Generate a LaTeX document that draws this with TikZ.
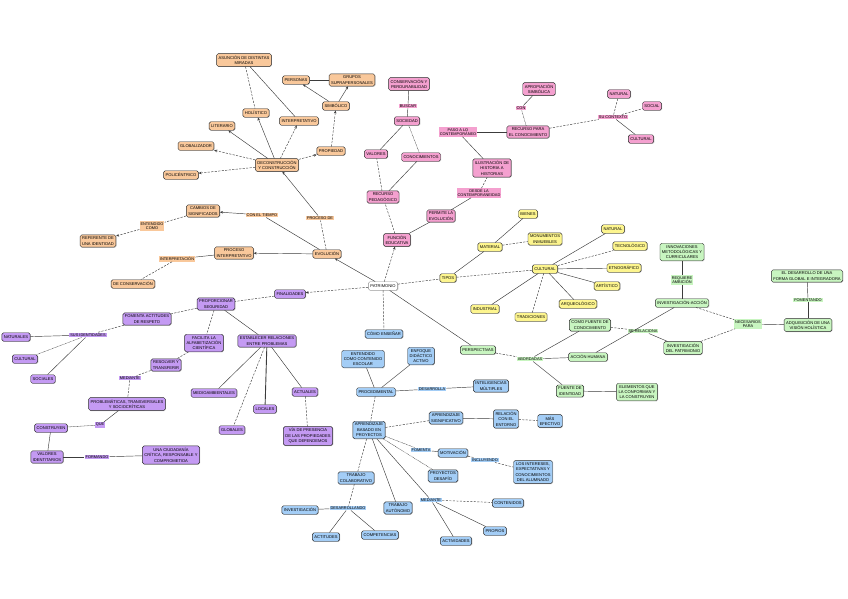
\documentclass[tikz,border=0pt]{standalone}
\usepackage{fontspec}
\setmainfont{Liberation Sans}
\usepackage{xcolor}
\usepackage{tikz}
\usetikzlibrary{arrows.meta,shadows}
\definecolor{evofill}{HTML}{F9C89B}
\definecolor{edufill}{HTML}{F4A0CF}
\definecolor{tipofill}{HTML}{FDF58E}
\definecolor{perspfill}{HTML}{C8F5C0}
\definecolor{finfill}{HTML}{C49AF3}
\definecolor{ensfill}{HTML}{A3CDF6}
\definecolor{mapink}{HTML}{2B2B2B}
\definecolor{lineink}{HTML}{3C3C3C}
\newcommand\mapfont{\fontsize{4.1}{5.4}\selectfont}
\newcommand\tagfont{\fontsize{3.9}{4.6}\selectfont}

\begin{document}
\begin{tikzpicture}[
  x=1pt,y=-1pt,
  box/.style={draw=mapink,rounded corners=1.6pt,line width=.45pt,align=center,
    font=\mapfont,inner xsep=2pt,inner ysep=1.9pt,minimum height=8.5pt,
    drop shadow={shadow xshift=.6pt,shadow yshift=-.6pt,fill=black!45}},
  evo/.style={box,fill=evofill},
  edu/.style={box,fill=edufill},
  tipo/.style={box,fill=tipofill},
  persp/.style={box,fill=perspfill},
  fin/.style={box,fill=finfill},
  ens/.style={box,fill=ensfill},
  lbl/.style={font=\tagfont,align=center,inner xsep=1pt,inner ysep=.9pt},
  con/.style={lineink,line width=.45pt},
  dsh/.style={con,dash pattern=on 2.2pt off 1.3pt},
  dot/.style={con,dash pattern=on .5pt off .9pt,line cap=round},
  heavy/.style={con,line width=.9pt},
  arr/.style={-{Stealth[length=3pt,width=2.6pt]}}
]
  \useasboundingbox (0,0) rectangle (848,599);

  \node[box,fill=white,draw=black!45] (pat) at (383,286) {PATRIMONIO};

  % evolucion
  \node[evo] (asun) at (244,60) {ASUNCIÓN DE DISTINTAS\\MIRADAS};
  \node[evo] (pers) at (296,80) {PERSONAS};
  \node[evo] (grup) at (352,80) {GRUPOS\\SUPRAPERSONALES};
  \node[evo] (simb) at (336,106) {SIMBÓLICO};
  \node[evo] (holi) at (256,113) {HOLÍSTICO};
  \node[evo] (lite) at (222,126) {LITERARIO};
  \node[evo] (inte) at (299,121) {INTERPRETATIVO};
  \node[evo] (glob) at (196,146) {GLOBALIZADOR};
  \node[evo] (prop) at (331,151) {PROPIEDAD};
  \node[evo] (deco) at (277,165) {DECONSTRUCCIÓN\\Y CONSTRUCCIÓN};
  \node[evo] (poli) at (181,175) {POLICÉNTRICO};
  \node[evo] (camb) at (203,211) {CAMBIOS DE\\SIGNIFICADOS};
  \node[evo] (refe) at (98,241) {REFERENTE DE\\UNA IDENTIDAD};
  \node[evo] (proi) at (234,253) {PROCESO\\INTERPRETATIVO};
  \node[evo] (evol) at (327,254) {EVOLUCIÓN};
  \node[evo] (cons) at (133,284) {DE CONSERVACIÓN};
  \node[lbl,fill=evofill] (ltiempo) at (262,215) {CON EL TIEMPO};
  \node[lbl,fill=evofill] (lcomo) at (152,226) {ENTENDIDO\\COMO};
  \node[lbl,fill=evofill] (lproc) at (320,218) {PROCESO DE};
  \node[lbl,fill=evofill] (linterp) at (177,259) {INTERPRETACIÓN};

  % funcion educativa
  \node[edu] (perd) at (409,84) {CONSERVACIÓN Y\\PERDURABILIDAD};
  \node[edu] (soci) at (407,121) {SOCIEDAD};
  \node[edu] (valo) at (376,154) {VALORES};
  \node[edu] (cono) at (421,157) {CONOCIMIENTOS};
  \node[edu] (rped) at (383,197) {RECURSO\\PEDAGÓGICO};
  \node[edu] (func) at (397,240) {FUNCIÓN\\EDUCATIVA};
  \node[edu] (perm) at (441,216) {PERMITE LA\\EVOLUCIÓN};
  \node[edu] (ilus) at (492,168) {ILUSTRACIÓN DE\\HISTORIA A\\HISTORIAS};
  \node[edu] (rcon) at (528,132) {RECURSO PARA\\EL CONOCIMIENTO};
  \node[edu] (elev) at (539,89) {APROPIACIÓN\\SIMBÓLICA};
  \node[edu] (enat) at (619,94) {NATURAL};
  \node[edu] (esoc) at (652,106) {SOCIAL};
  \node[edu] (ecul) at (641,139) {CULTURAL};
  \node[lbl,fill=edufill] (lbusc) at (408,106) {BUSCAR};
  \node[lbl,fill=edufill] (ldesde) at (479,193) {DESDE LA\\CONTEMPORANEIDAD};
  \node[lbl,fill=edufill] (lpaso) at (458,132) {PASO A LO\\CONTEMPORÁNEO};
  \node[lbl,fill=edufill] (lcon) at (521,108) {CON};
  \node[lbl,fill=edufill] (lcont) at (613,117) {SU CONTEXTO};

  % tipos
  \node[tipo] (tipo) at (448,278) {TIPOS};
  \node[tipo] (mate) at (490,247) {MATERIAL};
  \node[tipo] (bien) at (528,214) {BIENES};
  \node[tipo] (monu) at (545,239) {MONUMENTOS\\INMUEBLES};
  \node[tipo] (cult) at (545,269) {CULTURAL};
  \node[tipo] (ynat) at (613,229) {NATURAL};
  \node[tipo] (tecn) at (630,246) {TECNOLÓGICO};
  \node[tipo] (etno) at (624,268) {ETNOGRÁFICO};
  \node[tipo] (arti) at (607,286) {ARTÍSTICO};
  \node[tipo] (arqu) at (578,304) {ARQUEOLÓGICO};
  \node[tipo] (indu) at (485,309) {INDUSTRIAL};
  \node[tipo] (trad) at (531,317) {TRADICIONES};

  % perspectivas
  \node[persp] (inno) at (682,252) {INNOVACIONES\\METODOLÓGICAS Y\\CURRICULARES};
  \node[persp] (invac) at (682,303) {INVESTIGACIÓN-ACCIÓN};
  \node[persp] (adqu) at (808,325) {ADQUISICIÓN DE UNA\\VISIÓN HOLÍSTICA};
  \node[persp] (desa) at (807,276) {EL DESARROLLO DE UNA\\FORMA GLOBAL E INTEGRADORA};
  \node[persp] (invp) at (683,348) {INVESTIGACIÓN\\DEL PATRIMONIO};
  \node[persp] (fuen) at (590,325) {COMO FUENTE DE\\CONOCIMIENTO};
  \node[persp] (acci) at (588,357) {ACCIÓN HUMANA};
  \node[persp] (persp) at (478,350) {PERSPECTIVAS};
  \node[persp] (iden) at (570,391) {FUENTE DE\\IDENTIDAD};
  \node[persp] (elem) at (637,392) {ELEMENTOS QUE\\LA CONFORMAN Y\\LA CONSTRUYEN};
  \node[lbl,fill=perspfill] (lreq) at (682,280) {REQUIERE\\AMBICIÓN};
  \node[lbl,fill=perspfill] (lnec) at (748,324) {NECESARIOS\\PARA};
  \node[lbl,fill=perspfill] (lfom) at (808,300) {FOMENTANDO};
  \node[lbl,fill=perspfill] (lrel) at (643,331) {SE RELACIONA};
  \node[lbl,fill=perspfill] (labor) at (530,359) {ABORDADAS};

  % finalidades
  \node[fin] (fina) at (290,294) {FINALIDADES};
  \node[fin] (segu) at (216,304) {PROPORCIONAR\\SEGURIDAD};
  \node[fin] (fome) at (147,319) {FOMENTA ACTITUDES\\DE RESPETO};
  \node[fin] (pnat) at (16,337) {NATURALES};
  \node[fin] (pcul) at (25,359) {CULTURAL};
  \node[fin] (psoc) at (43,379) {SOCIALES};
  \node[fin] (faci) at (204,343) {FACILITA LA\\ALFABETIZACIÓN\\CIENTÍFICA};
  \node[fin] (esta) at (267,341) {ESTABLECER RELACIONES\\ENTRE PROBLEMAS};
  \node[fin] (reso) at (166,365) {RESOLVER Y\\TRANSFERIR};
  \node[fin] (prob) at (127,404) {PROBLEMÁTICAS, TRANSVERSALES\\Y SOCIOCRÍTICAS};
  \node[fin] (cnst) at (51,428) {CONSTRUYEN};
  \node[fin] (vali) at (47,457) {VALORES\\IDENTITARIOS};
  \node[fin] (ciud) at (171,455) {UNA CIUDADANÍA\\CRÍTICA, RESPONSABLE Y\\COMPROMETIDA};
  \node[fin] (medi) at (214,393) {MEDIOAMBIENTALES};
  \node[fin] (loca) at (265,409) {LOCALES};
  \node[fin] (glbs) at (232,430) {GLOBALES};
  \node[fin] (actu) at (305,392) {ACTUALES};
  \node[fin] (viap) at (308,436) {VÍA DE PRESENCIA\\DE LAS PROPIEDADES\\QUE DEFENDEMOS};
  \node[lbl,fill=finfill] (lsus) at (88,335) {SUS IDENTIDADES};
  \node[lbl,fill=finfill] (lmed) at (130,378) {MEDIANTE};
  \node[lbl,fill=finfill] (lque) at (100,425) {QUE};
  \node[lbl,fill=finfill] (lform) at (97,457) {FORMANDO};

  % como ensenar
  \node[ens] (como) at (384,334) {CÓMO ENSEÑAR};
  \node[ens] (ente) at (363,359) {ENTENDIDO\\COMO CONTENIDO\\ESCOLAR};
  \node[ens] (enfo) at (421,356) {ENFOQUE\\DIDÁCTICO\\ACTIVO};
  \node[ens] (proc) at (376,392) {PROCEDIMENTAL};
  \node[ens] (inmu) at (491,386) {INTELIGENCIAS\\MÚLTIPLES};
  \node[ens] (abp) at (369,430) {APRENDIZAJE\\BASADO EN\\PROYECTOS};
  \node[ens] (asig) at (446,418) {APRENDIZAJE\\SIGNIFICATIVO};
  \node[ens] (rent) at (506,419) {RELACIÓN\\CON EL\\ENTORNO};
  \node[ens] (mefe) at (550,421) {MÁS\\EFECTIVO};
  \node[ens] (moti) at (453,453) {MOTIVACIÓN};
  \node[ens] (alum) at (533,472) {LOS INTERESES,\\EXPECTATIVAS Y\\CONOCIMIENTOS\\DEL ALUMNADO};
  \node[ens] (pdes) at (443,476) {PROYECTOS\\DESAFÍO};
  \node[ens] (tcol) at (356,478) {TRABAJO\\COLABORATIVO};
  \node[ens] (taut) at (398,508) {TRABAJO\\AUTÓNOMO};
  \node[ens] (cont) at (508,503) {CONTENIDOS};
  \node[ens] (ppro) at (495,531) {PROPIOS};
  \node[ens] (acti) at (456,541) {ACTIVIDADES};
  \node[ens] (inve) at (300,510) {INVESTIGACIÓN};
  \node[ens] (acts) at (326,537) {ACTITUDES};
  \node[ens] (comp) at (380,535) {COMPETENCIAS};
  \node[lbl,fill=ensfill] (ldes) at (432,389) {DESARROLLA};
  \node[lbl,fill=ensfill] (lfoment) at (421,450) {FOMENTA};
  \node[lbl,fill=ensfill] (linc) at (485,460) {INCLUYENDO};
  \node[lbl,fill=ensfill] (lmedi) at (431,500) {MEDIANTE};
  \node[lbl,fill=ensfill] (ldesa) at (348,508) {DESARROLLANDO};

  % conexiones
  \draw[con,arr] (pat) -- (evol);
  \draw[dsh,arr] (pat) -- (func);
  \draw[dsh,arr] (pat) -- (fina);
  \draw[dsh] (pat) -- (tipo);
  \draw[dsh] (pat) -- (como);
  \draw[con] (pat) -- (persp);

  \draw[dsh] (evol) -- (lproc);
  \draw[con,arr] (lproc) -- (deco);
  \draw[con] (evol) -- (ltiempo);
  \draw[con,arr] (ltiempo) -- (camb);
  \draw[dsh] (camb) -- (lcomo);
  \draw[dsh,arr] (lcomo) -- (refe);
  \draw[con,arr] (evol) -- (proi);
  \draw[con] (proi) -- (linterp);
  \draw[dsh] (linterp) -- (cons);
  \draw[dsh,arr] (deco) -- (glob);
  \draw[dsh,arr] (deco) -- (poli);
  \draw[con,arr] (deco) -- (lite);
  \draw[con,arr] (deco) -- (holi);
  \draw[dsh,arr] (deco) -- (inte);
  \draw[dsh,arr] (deco) -- (prop);
  \draw[dsh,arr] (prop) -- (simb);
  \draw[con,arr] (simb) -- (pers);
  \draw[con,arr] (simb) -- (grup);
  \draw[heavy] (pers) -- (grup);
  \draw[dsh] (asun) -- (holi);
  \draw[con] (asun) -- (inte);

  \draw[dsh] (func) -- (rped);
  \draw[dsh] (rped) -- (valo);
  \draw[con] (rped) -- (cono);
  \draw[con] (valo) -- (soci);
  \draw[dot] (cono) -- (soci);
  \draw[con] (soci) -- (lbusc);
  \draw[con] (lbusc) -- (perd);
  \draw[con] (func) -- (perm);
  \draw[con] (perm) -- (ldesde);
  \draw[dsh] (ldesde) -- (ilus);
  \draw[con] (ilus) -- (lpaso);
  \draw[heavy] (lpaso) -- (rcon);
  \draw[dot] (rcon) -- (lcon);
  \draw[con] (lcon) -- (elev);
  \draw[dsh] (rcon) -- (lcont);
  \draw[dsh] (lcont) -- (enat);
  \draw[dsh] (lcont) -- (esoc);
  \draw[con] (lcont) -- (ecul);

  \draw[con] (tipo) -- (mate);
  \draw[con] (mate) -- (bien);
  \draw[dsh] (mate) -- (monu);
  \draw[dsh] (tipo) -- (cult);
  \draw[con] (cult) -- (ynat);
  \draw[dsh] (cult) -- (tecn);
  \draw[con] (cult) -- (etno);
  \draw[con] (cult) -- (arti);
  \draw[con] (cult) -- (arqu);
  \draw[dsh] (cult) -- (trad);
  \draw[con] (cult) -- (indu);

  \draw[dsh] (persp) -- (labor);
  \draw[con] (labor) -- (fuen);
  \draw[con] (labor) -- (acci);
  \draw[con] (labor) -- (iden);
  \draw[con] (iden) -- (elem);
  \draw[dsh] (fuen) -- (lrel);
  \draw[con] (lrel) -- (invp);
  \draw[con] (acci) -- (invac);
  \draw[con] (invac) -- (lreq);
  \draw[con] (lreq) -- (inno);
  \draw[dsh] (invac) -- (lnec);
  \draw[dsh] (invp) -- (lnec);
  \draw[con] (lnec) -- (adqu);
  \draw[con] (adqu) -- (lfom);
  \draw[con] (lfom) -- (desa);

  \draw[dsh] (fina) -- (segu);
  \draw[dsh] (segu) -- (fome);
  \draw[dsh] (fome) -- (lsus);
  \draw[con] (lsus) -- (pnat);
  \draw[dot] (lsus) -- (pcul);
  \draw[con] (lsus) -- (psoc);
  \draw[dsh] (segu) -- (faci);
  \draw[con] (segu) -- (esta);
  \draw[dsh] (faci) -- (reso);
  \draw[dsh] (reso) -- (lmed);
  \draw[dsh] (lmed) -- (prob);
  \draw[con] (prob) -- (lque);
  \draw[dot] (lque) -- (cnst);
  \draw[con] (cnst) -- (vali);
  \draw[con] (vali) -- (lform);
  \draw[con] (lform) -- (ciud);
  \draw[con] (esta) -- (medi);
  \draw[dsh] (esta) -- (glbs);
  \draw[heavy] (esta) -- (loca);
  \draw[con] (esta) -- (actu);
  \draw[dsh] (actu) -- (viap);

  \draw[con] (ente) -- (proc);
  \draw[con] (enfo) -- (proc);
  \draw[con] (proc) -- (ldes);
  \draw[con] (ldes) -- (inmu);
  \draw[dsh] (proc) -- (abp);
  \draw[dsh] (abp) -- (asig);
  \draw[con] (asig) -- (rent);
  \draw[dsh] (rent) -- (mefe);
  \draw[dot] (abp) -- (lfoment);
  \draw[con] (lfoment) -- (moti);
  \draw[dsh] (moti) -- (linc);
  \draw[dsh] (linc) -- (alum);
  \draw[dot] (abp) -- (pdes);
  \draw[dsh] (abp) -- (tcol);
  \draw[con] (abp) -- (taut);
  \draw[con] (abp) -- (lmedi);
  \draw[dsh] (lmedi) -- (cont);
  \draw[con] (lmedi) -- (ppro);
  \draw[con] (lmedi) -- (acti);
  \draw[dsh] (tcol) -- (ldesa);
  \draw[con] (ldesa) -- (inve);
  \draw[con] (ldesa) -- (acts);
  \draw[con] (ldesa) -- (comp);
\end{tikzpicture}
\end{document}
